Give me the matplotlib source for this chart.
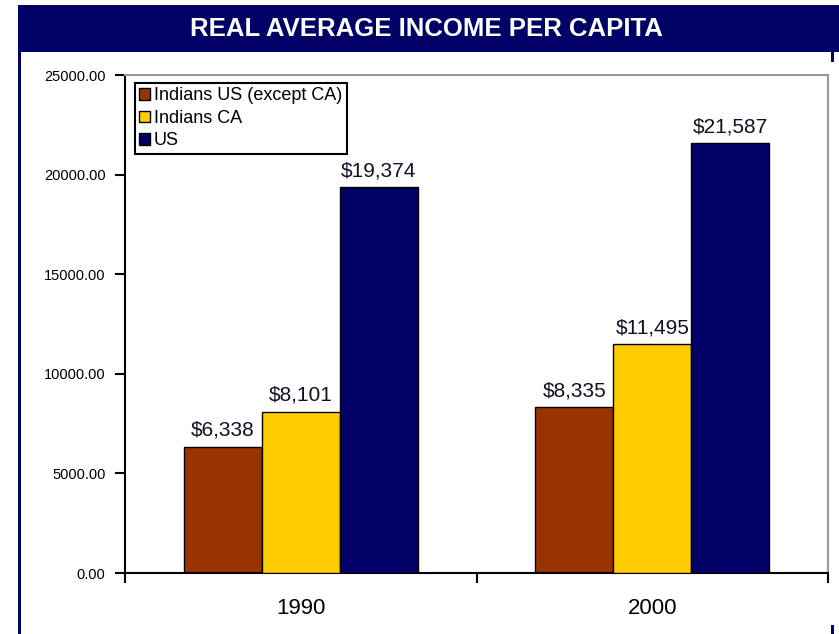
import numpy as np
import matplotlib
matplotlib.use("Agg")
import matplotlib.pyplot as plt
from matplotlib.patches import Rectangle

plt.rcParams['font.family'] = ['Liberation Sans', 'DejaVu Sans']

# data
years = ['1990', '2000']
series = ['Indians US (except CA)', 'Indians CA', 'US']
income = {
    'Indians US (except CA)': [6338, 8335],
    'Indians CA': [8101, 11495],
    'US': [19374, 21587],
}
colors = ['#993300', '#FFCC00', '#000066']
yticks = [0, 5000, 10000, 15000, 20000, 25000]

fig = plt.figure(figsize=(8.39, 6.34), dpi=100)

# title banner and frame lines
navy = '#000066'
fig.patches.append(Rectangle((0.0215, 0.918), 0.98, 0.074, transform=fig.transFigure,
                             facecolor=navy, edgecolor='none', zorder=0))
fig.patches.append(Rectangle((0.0215, 0.0), 0.0036, 0.918, transform=fig.transFigure,
                             facecolor=navy, edgecolor='none', zorder=0))
fig.patches.append(Rectangle((0.991, 0.902), 0.003, 0.016, transform=fig.transFigure,
                             facecolor=navy, edgecolor='none', zorder=0))
fig.patches.append(Rectangle((0.991, 0.0), 0.003, 0.014, transform=fig.transFigure,
                             facecolor=navy, edgecolor='none', zorder=0))
fig.text(0.508, 0.954, 'REAL AVERAGE INCOME PER CAPITA', color='white',
         fontsize=18.5, fontweight='bold', ha='center', va='center')

ax = fig.add_axes([0.149, 0.0962, 0.838, 0.7855])

x = np.arange(len(years))
w = 0.222
for i, name in enumerate(series):
    vals = income[name]
    pos = x + (i - 1) * w
    ax.bar(pos, vals, width=w, color=colors[i], edgecolor='black', linewidth=1,
           label=name, zorder=2 + i)
    for xp, v in zip(pos, vals):
        ax.annotate(f"${v:,.0f}", (xp, v), xytext=(0, 5), textcoords='offset points',
                    ha='center', va='bottom', fontsize=15, color='#111122',
                    zorder=2.5 + i)

ax.set_xlim(-0.5, 1.5)
ax.set_ylim(0, 25000)
ax.set_yticks(yticks)
ax.set_yticklabels([f"{t:.2f}" for t in yticks], fontsize=10.5)
ax.tick_params(axis='y', direction='out', length=7, width=1.5, pad=7)

ax.set_xticks(x)
ax.set_xticklabels(years, fontsize=16)
ax.tick_params(axis='x', length=0, pad=18)
ax.set_xticks([-0.5, 0.5, 1.5], minor=True)
ax.tick_params(axis='x', which='minor', direction='out', length=7, width=1.5)

for s in ['left', 'bottom']:
    ax.spines[s].set_color('black')
    ax.spines[s].set_linewidth(1.5)
for s in ['top', 'right']:
    ax.spines[s].set_color('#999999')
    ax.spines[s].set_linewidth(1.5)

leg = ax.legend(loc='upper left', bbox_to_anchor=(0.014, 0.984), borderaxespad=0,
                fontsize=13, fancybox=False, framealpha=1, edgecolor='black',
                handlelength=0.6, handleheight=0.6, handletextpad=0.2,
                labelspacing=0.3, borderpad=0.25)
leg.get_frame().set_linewidth(1.5)
leg.set_zorder(10)

fig.savefig('out.png', dpi=100)
